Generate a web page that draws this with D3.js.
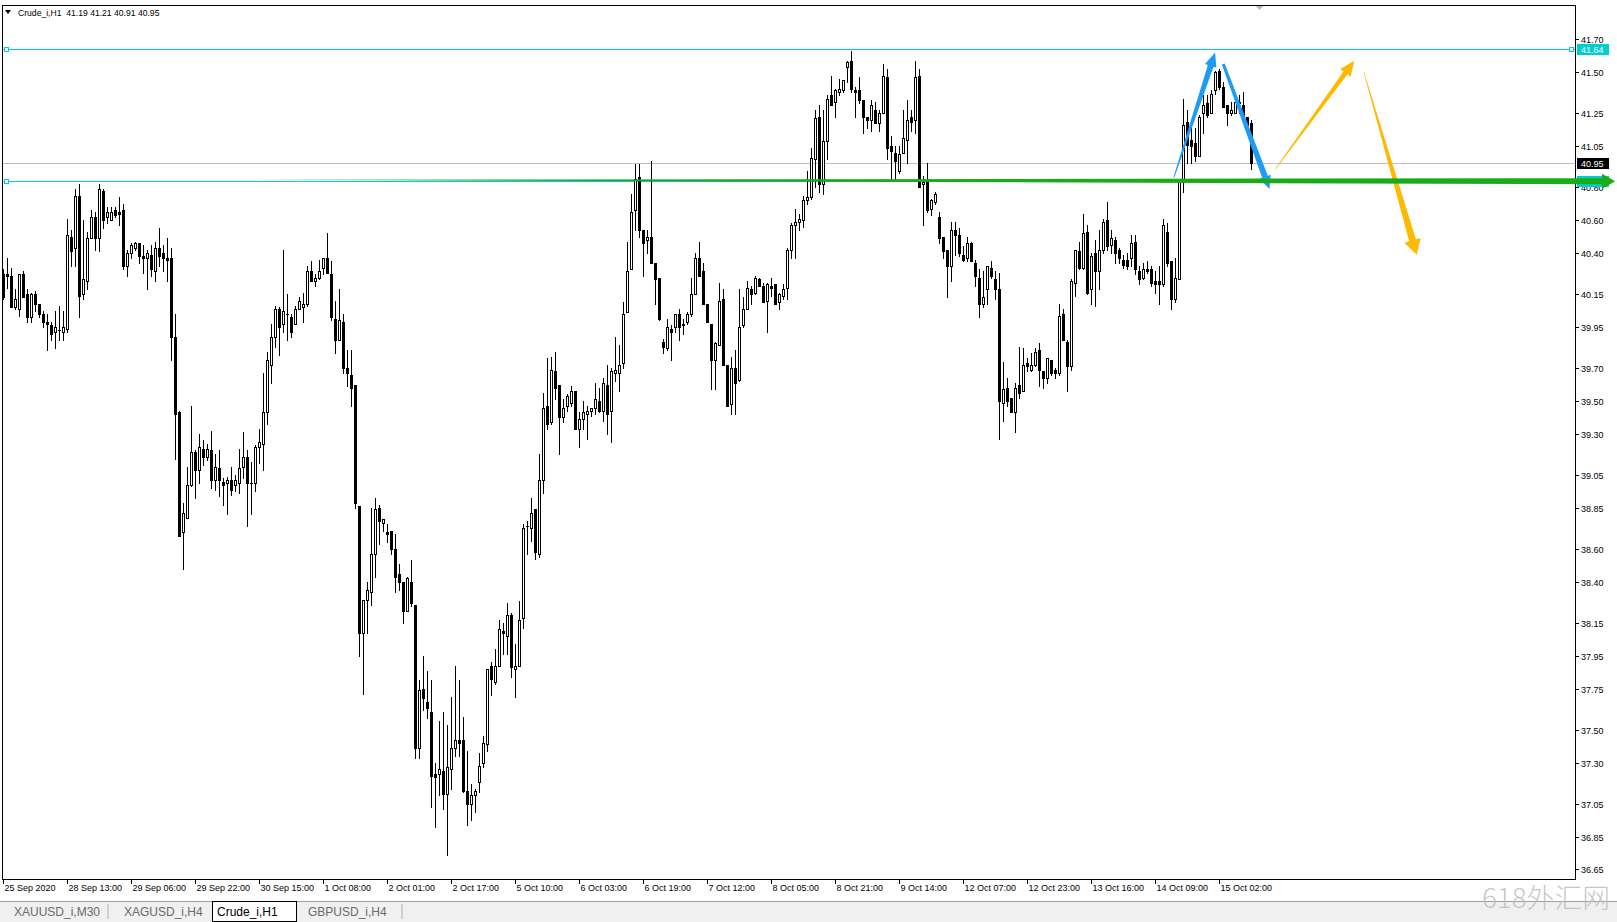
<!DOCTYPE html>
<html><head><meta charset="utf-8">
<script src="https://cdn.jsdelivr.net/npm/d3@7"></script>
<style>html,body{margin:0;padding:0;background:#fff;overflow:hidden}svg{display:block}</style>
</head><body>
<svg id="c" width="1617" height="922"></svg>
<script>
// ---------------- data ----------------
const open = [40.27,40.27,40.26,40.07,40.06,40.27,40.15,40.01,40.15,40.09,40.03,39.98,39.96,39.92,39.93,39.92,39.94,40.50,40.43,40.75,40.15,40.23,40.49,40.62,40.49,40.78,40.62,40.60,40.66,40.65,40.66,40.32,40.40,40.43,40.46,40.38,40.37,40.39,40.29,40.43,40.40,40.37,40.37,
39.89,39.43,38.70,38.79,38.99,39.19,39.08,39.21,39.16,39.20,39.02,39.09,39.01,39.00,39.02,38.99,39.00,39.10,39.16,39.00,39.00,39.22,39.24,39.43,39.72,39.89,40.06,39.97,40.03,40.01,39.97,40.06,40.07,40.09,40.29,40.23,40.25,40.31,40.37,40.27,40.00,39.87,39.98,39.70,39.66,39.60,
38.86,38.09,38.29,38.34,38.57,38.85,38.76,38.70,38.71,38.60,38.45,38.40,38.22,38.40,38.26,37.39,37.75,37.67,37.61,37.23,37.23,37.25,37.11,37.26,37.39,37.44,37.44,37.13,37.05,37.10,37.18,37.30,37.41,37.89,37.79,37.89,
38.10,38.07,38.20,37.87,37.89,38.18,38.74,38.73,38.84,38.57,39.02,39.47,39.37,39.68,39.60,39.40,39.47,39.49,39.56,39.33,39.39,39.42,39.44,39.46,39.50,39.44,39.60,39.44,39.67,39.67,39.73,40.04,40.30,40.66,40.86,
40.54,40.48,40.50,40.34,40.25,39.86,39.82,39.94,39.95,40.03,39.96,39.98,40.03,40.15,40.37,40.29,40.09,39.97,39.75,39.84,40.12,39.72,39.48,39.70,39.63,39.96,40.06,40.18,40.16,40.24,40.20,40.11,40.20,40.21,40.10,40.14,40.19,40.42,40.57,
40.59,40.60,40.72,40.74,40.97,41.23,40.82,41.08,41.36,41.32,41.38,41.39,41.53,41.57,41.39,41.39,41.33,41.23,41.21,41.27,41.19,41.25,41.47,41.05,41.01,40.90,41.01,41.09,41.23,41.21,41.48,40.82,40.83,40.67,40.71,40.62,40.50,40.42,40.32,40.54,
40.51,40.39,40.37,40.46,40.34,40.25,40.09,40.18,40.31,40.24,40.18,39.49,39.58,39.52,39.43,39.60,39.56,39.73,39.69,39.72,39.81,39.68,39.64,39.75,39.69,39.67,40.03,39.86,39.71,40.22,40.41,40.31,40.53,40.18,40.40,40.29,40.42,40.60,
40.45,40.48,40.42,40.36,40.36,40.37,40.47,40.29,40.25,40.30,40.30,40.23,40.23,40.21,40.53,40.35,40.12,40.24,40.84,41.20,41.09,41.07,40.99,41.25,41.31,41.25,41.39,41.51,41.41,41.30,41.25,41.25,41.32,41.30,41.23,41.19];
const high = [40.30,40.37,40.31,40.18,40.27,40.29,40.18,40.16,40.17,40.09,40.05,40.03,39.98,40.05,40.08,40.05,40.61,40.54,40.79,40.82,40.60,40.53,40.66,40.65,40.82,40.79,40.68,40.68,40.68,40.74,40.70,40.42,40.46,40.47,40.46,40.45,40.42,40.45,40.47,40.55,40.45,40.49,40.43,
40.03,39.44,38.88,39.10,39.47,39.20,39.30,39.26,39.24,39.32,39.18,39.20,39.03,39.04,39.10,39.05,39.21,39.31,39.20,39.13,39.23,39.33,39.67,39.80,39.97,40.08,40.07,40.42,40.15,40.03,40.08,40.13,40.16,40.32,40.35,40.27,40.36,40.37,40.52,40.35,40.11,40.18,40.03,39.81,39.81,39.60,
38.86,38.29,38.40,38.85,38.91,38.87,38.78,38.75,38.71,38.69,38.51,38.40,38.43,38.53,38.26,37.80,37.95,37.86,37.80,37.30,37.55,37.61,37.53,37.70,37.89,37.80,37.58,37.37,37.17,37.14,37.36,37.46,37.87,37.91,37.99,38.17,
38.15,38.27,38.21,38.02,38.28,38.75,38.77,38.91,38.84,39.18,39.55,39.76,39.77,39.80,39.60,39.51,39.54,39.59,39.56,39.43,39.50,39.47,39.46,39.61,39.58,39.64,39.72,39.70,39.89,39.84,40.10,40.47,40.76,40.94,40.94,
40.54,40.54,40.96,40.34,40.25,39.88,40.00,39.96,40.03,40.06,40.00,40.04,40.25,40.40,40.47,40.34,40.09,39.97,39.86,40.22,40.18,39.72,39.77,39.81,40.18,40.13,40.23,40.20,40.26,40.25,40.22,40.22,40.25,40.21,40.16,40.21,40.43,40.58,40.67,
40.64,40.75,40.90,41.04,41.27,41.30,41.27,41.36,41.48,41.40,41.46,41.45,41.57,41.63,41.41,41.47,41.33,41.23,41.33,41.32,41.27,41.55,41.52,41.11,41.05,41.05,41.27,41.33,41.27,41.57,41.52,40.87,40.95,40.73,40.77,40.65,40.50,40.42,40.59,40.59,
40.55,40.44,40.50,40.47,40.36,40.30,40.29,40.32,40.35,40.29,40.28,39.74,39.64,39.52,39.61,39.83,39.82,39.76,39.79,39.82,39.85,39.68,39.76,39.75,39.70,40.09,40.06,39.87,40.24,40.42,40.47,40.64,40.57,40.40,40.48,40.54,40.61,40.71,
40.54,40.50,40.43,40.39,40.40,40.51,40.51,40.32,40.34,40.35,40.32,40.29,40.32,40.61,40.58,40.35,40.37,40.84,41.34,41.27,41.19,41.16,41.24,41.36,41.36,41.39,41.51,41.52,41.44,41.30,41.32,41.33,41.36,41.38,41.23,41.21];
const low = [40.12,40.19,40.07,40.06,40.02,40.13,39.98,39.98,40.05,40.01,39.95,39.81,39.87,39.82,39.87,39.87,39.92,40.32,40.32,40.01,40.12,40.18,40.49,40.42,40.41,40.55,40.58,40.60,40.62,40.57,40.30,40.26,40.37,40.42,40.34,40.28,40.18,40.26,40.23,40.32,40.29,40.23,39.75,
39.15,38.68,38.48,38.79,38.98,38.91,39.00,39.11,39.14,38.97,38.96,38.92,38.87,38.81,38.93,38.95,38.94,39.03,38.74,38.81,38.95,39.12,39.08,39.36,39.61,39.83,39.78,39.92,39.87,39.89,39.97,40.06,39.98,40.08,40.23,40.20,40.24,40.27,40.28,39.99,39.79,39.87,39.67,39.59,39.47,38.85,
37.95,37.72,38.09,38.26,38.43,38.63,38.71,38.64,38.57,38.34,38.35,38.15,38.22,38.25,37.33,37.33,37.62,37.57,37.03,36.91,37.10,37.02,36.74,37.14,37.34,37.34,37.12,36.92,36.95,37.00,37.12,37.27,37.37,37.71,37.78,37.89,
37.96,37.96,37.82,37.70,37.89,38.12,38.57,38.65,38.54,38.55,38.94,39.33,39.36,39.51,39.18,39.37,39.44,39.47,39.33,39.22,39.33,39.27,39.41,39.42,39.43,39.38,39.30,39.25,39.62,39.56,39.70,40.04,40.30,40.54,40.50,
40.26,40.40,40.34,40.09,39.99,39.79,39.81,39.75,39.92,39.87,39.91,39.97,40.02,40.15,40.26,40.09,39.98,39.57,39.57,39.84,39.72,39.47,39.42,39.42,39.62,39.95,40.06,40.09,40.15,40.20,40.10,39.92,40.14,40.09,40.06,40.12,40.12,40.37,40.37,
40.54,40.56,40.70,40.73,40.80,40.77,40.76,40.97,41.30,41.23,41.36,41.38,41.44,41.38,41.23,41.31,41.13,41.16,41.14,41.19,41.14,41.25,40.97,40.85,40.85,40.89,41.01,40.95,41.14,41.13,40.80,40.57,40.65,40.63,40.70,40.46,40.37,40.13,40.23,40.39,
40.38,40.35,40.35,40.35,40.20,40.01,40.07,40.09,40.25,40.12,39.27,39.38,39.47,39.43,39.31,39.52,39.56,39.68,39.68,39.71,39.59,39.58,39.61,39.66,39.64,39.66,39.87,39.56,39.69,40.14,40.30,40.30,40.15,40.09,40.08,40.18,40.40,40.42,
40.40,40.34,40.34,40.31,40.30,40.32,40.27,40.21,40.24,40.28,40.20,40.16,40.09,40.20,40.32,40.06,40.10,40.24,40.77,40.95,40.95,40.96,40.99,41.13,41.23,41.25,41.37,41.40,41.29,41.18,41.24,41.25,41.25,41.24,41.17,40.91];
const close = [40.13,40.26,40.07,40.12,40.27,40.13,40.01,40.15,40.09,40.03,39.98,39.97,39.91,39.95,39.93,39.95,40.51,40.41,40.75,40.14,40.24,40.49,40.62,40.49,40.79,40.60,40.65,40.65,40.63,40.64,40.32,40.40,40.45,40.46,40.38,40.37,40.40,40.30,40.43,40.38,40.37,40.36,39.89,
39.42,38.68,38.82,38.99,39.19,39.08,39.22,39.16,39.21,39.02,39.10,39.02,38.99,39.02,38.96,39.02,39.09,39.16,39.00,39.00,39.22,39.25,39.43,39.75,39.89,40.06,39.95,40.05,40.03,39.92,40.06,40.11,40.09,40.29,40.23,40.25,40.29,40.37,40.28,40.01,39.87,39.99,39.70,39.67,39.58,38.88,
38.09,38.29,38.35,38.57,38.84,38.77,38.78,38.69,38.60,38.43,38.40,38.22,38.42,38.27,37.39,37.74,37.69,37.63,37.22,37.21,37.26,37.11,37.27,37.39,37.44,37.42,37.13,37.05,37.10,37.13,37.28,37.42,37.87,37.81,37.89,38.11,
38.09,38.20,37.88,37.89,38.17,38.73,38.74,38.82,38.58,39.02,39.46,39.36,39.69,39.58,39.40,39.46,39.53,39.56,39.33,39.39,39.43,39.44,39.46,39.51,39.44,39.61,39.42,39.68,39.69,39.72,40.03,40.29,40.65,40.85,40.54,
40.46,40.50,40.34,40.24,40.00,39.83,39.95,39.92,40.03,39.95,39.97,40.03,40.15,40.37,40.26,40.09,39.98,39.75,39.85,40.11,39.72,39.47,39.70,39.61,39.95,40.06,40.19,40.15,40.25,40.20,40.10,40.21,40.19,40.09,40.15,40.18,40.42,40.57,40.59,
40.61,40.72,40.74,40.98,41.22,40.82,41.08,41.34,41.30,41.39,41.40,41.45,41.56,41.40,41.38,41.33,41.23,41.21,41.30,41.19,41.25,41.48,41.04,41.02,40.96,41.00,41.10,41.21,41.20,41.47,40.80,40.83,40.66,40.72,40.76,40.49,40.41,40.32,40.54,40.51,
40.40,40.36,40.46,40.35,40.26,40.09,40.13,40.32,40.26,40.18,39.50,39.57,39.50,39.43,39.58,39.55,39.72,39.71,39.72,39.80,39.69,39.64,39.76,39.67,39.67,40.02,39.87,39.71,40.23,40.42,40.31,40.52,40.16,40.38,40.29,40.42,40.59,40.44,
40.49,40.40,40.37,40.33,40.32,40.46,40.30,40.24,40.30,40.29,40.22,40.21,40.21,40.57,40.34,40.12,40.25,40.84,41.18,41.06,41.05,40.99,41.23,41.30,41.24,41.37,41.50,41.41,41.29,41.25,41.27,41.32,41.31,41.24,41.18,40.95];

const priceTicks = [41.70,41.50,41.25,41.05,40.80,40.60,40.40,40.15,39.95,39.70,39.50,39.30,39.05,38.85,38.60,38.40,38.15,37.95,37.75,37.50,37.30,37.05,36.85,36.65];
const timeLabels = ["25 Sep 2020","28 Sep 13:00","29 Sep 06:00","29 Sep 22:00","30 Sep 15:00","1 Oct 08:00","2 Oct 01:00","2 Oct 17:00","5 Oct 10:00","6 Oct 03:00","6 Oct 19:00","7 Oct 12:00","8 Oct 05:00","8 Oct 21:00","9 Oct 14:00","12 Oct 07:00","12 Oct 23:00","13 Oct 16:00","14 Oct 09:00","15 Oct 02:00"];
const timeLabelBars = [0,16,32,48,64,80,96,112,128,144,160,176,192,208,224,240,256,272,288,304];
const tabNames = ["XAUUSD_i,M30","XAGUSD_i,H4","Crude_i,H1","GBPUSD_i,H4"];
const activeTab = "Crude_i,H1";
const headerText = "Crude_i,H1  41.19 41.21 40.91 40.95";
const levelLines = [41.64, 40.84];
const bidPrice = 40.95;
// annotation arrows: bar index / price
const arrowsFrom = [[292.6,40.86],[304.95,41.55],[317.95,40.91],[340.1,41.50],[58.9,40.846]];
const arrowsTo   = [[302.9,41.62],[316.5,40.79],[337.7,41.57],[353.3,40.39],[402.9,40.837]];
const arrowColors = ["#1e9bf5","#1e9bf5","#ffb900","#ffb900","#1aab1a"];
const arrowSizes = [[1,6,12,14],[3,6,12,13],[0.5,5,13,15],[0.5,7,17,15],[0,6,15,13]];

// ---------------- drawing ----------------
const svg = d3.select('#c');
const FL = 2.5, FR = 1575.5, FT = 5.5, FB = 879.5;
const y = d3.scaleLinear().domain([36.65, 41.70]).range([869.4, 39.4]);
const x = d3.scaleLinear().domain([0, 312]).range([3.5, 1251.5]);
const FONT = '"Liberation Sans", Arial, sans-serif';

svg.append('rect').attr('width',1617).attr('height',922).attr('fill','#fff');

const plot = svg.append('g');
// bid line
plot.append('line').attr('x1',FL).attr('x2',FR).attr('y1',Math.round(y(bidPrice))+0.5).attr('y2',Math.round(y(bidPrice))+0.5)
  .attr('stroke','#c0c0c0').attr('stroke-width',1);
// horizontal level lines (cyan)
levelLines.forEach(p=>{
  const yy = Math.round(y(p))+0.5;
  plot.append('line').attr('x1',FL).attr('x2',FR).attr('y1',yy).attr('y2',yy).attr('stroke','#00ced1').attr('stroke-width',1);
  plot.append('rect').attr('x',4.5).attr('y',yy-2).attr('width',4).attr('height',4).attr('fill','#fff').attr('stroke','#00ced1');
  plot.append('rect').attr('x',FR-6).attr('y',yy-2).attr('width',4).attr('height',4).attr('fill','#fff').attr('stroke','#00ced1');
});

// candles
const cg = plot.append('g').attr('shape-rendering','crispEdges');
d3.range(open.length).forEach(i=>{
  const cx = x(i);
  const yh = Math.round(y(high[i])), yl = Math.round(y(low[i]));
  const yt = Math.round(y(Math.max(open[i],close[i]))), yb = Math.round(y(Math.min(open[i],close[i])));
  cg.append('rect').attr('x',cx-0.5).attr('y',yh).attr('width',1).attr('height',Math.max(1,yl-yh+1)).attr('fill','#000');
  cg.append('rect').attr('x',cx-1.5).attr('y',yt).attr('width',3).attr('height',yb-yt+1).attr('fill','#000');
  if (close[i] > open[i] && yb-yt-1 > 0) {
    cg.append('rect').attr('x',cx-0.5).attr('y',yt+1).attr('width',1).attr('height',yb-yt-1).attr('fill','#fff');
  }
});

// arrows
function arrow(p1,p2,sz,color){
  const x1=x(p1[0]), y1=y(p1[1]), x2=x(p2[0]), y2=y(p2[1]);
  const [w0,w1,hw,hl]=sz;
  const dx=x2-x1, dy=y2-y1, len=Math.hypot(dx,dy);
  const ux=dx/len, uy=dy/len, nx=-uy, ny=ux;
  const bx=x2-ux*hl, by=y2-uy*hl;
  const pts=[[x1+nx*w0/2,y1+ny*w0/2],[bx+nx*w1/2,by+ny*w1/2],[bx+nx*hw/2,by+ny*hw/2],[x2,y2],
             [bx-nx*hw/2,by-ny*hw/2],[bx-nx*w1/2,by-ny*w1/2],[x1-nx*w0/2,y1-ny*w0/2]];
  svg.append('polygon').attr('points',pts.map(p=>p.map(v=>v.toFixed(2)).join(',')).join(' ')).attr('fill',color);
}

// frame
svg.append('rect').attr('x',FL).attr('y',FT).attr('width',FR-FL).attr('height',FB-FT)
  .attr('fill','none').attr('stroke','#000').attr('stroke-width',1).attr('shape-rendering','crispEdges');

// right axis
const ax = svg.append('g').attr('font-family',FONT).attr('font-size','9px').attr('fill','#000');
priceTicks.forEach(p=>{
  const yy=Math.round(y(p))+0.5;
  ax.append('line').attr('x1',FR).attr('x2',FR+3).attr('y1',yy).attr('y2',yy).attr('stroke','#000').attr('shape-rendering','crispEdges');
  ax.append('text').attr('x',1581).attr('y',yy).attr('dy','0.35em').text(p.toFixed(2));
});
// level labels (the lower one is hidden behind the green arrow in the reference)
function priceBox(p,bg,fg,withText){
  const yy=Math.round(y(p));
  svg.append('rect').attr('x',1577).attr('y',yy-5).attr('width',32).attr('height',11).attr('fill',bg);
  if (withText) svg.append('text').attr('x',1581).attr('y',yy+0.5).attr('dy','0.35em').attr('font-family',FONT)
    .attr('font-size','9px').attr('fill',fg).text(p.toFixed(2));
}
priceBox(levelLines[0],'#00ced1','#fff',true);
priceBox(levelLines[1],'#00ced1','#fff',false);
priceBox(bidPrice,'#000','#fff',true);

// arrows over everything in plot
arrowsFrom.forEach((p,k)=>arrow(p,arrowsTo[k],arrowSizes[k],arrowColors[k]));

// bottom axis
const bx = svg.append('g').attr('font-family',FONT).attr('font-size','9px').attr('fill','#000');
timeLabelBars.forEach((b,k)=>{
  const xx=x(b);
  bx.append('line').attr('x1',xx).attr('x2',xx).attr('y1',FB).attr('y2',FB+4).attr('stroke','#000').attr('shape-rendering','crispEdges');
  bx.append('text').attr('x',xx+1).attr('y',888).attr('dy','0.35em').text(timeLabels[k]);
});

// header
svg.append('path').attr('d','M5,10 L11,10 L8,14 Z').attr('fill','#000');
svg.append('text').attr('x',18).attr('y',13).attr('dy','0.35em').attr('font-family',FONT)
  .attr('font-size','8.6px').attr('fill','#000').style('white-space','pre').text(headerText);
// shift marker
svg.append('path').attr('d','M1256,6 L1263,6 L1259.5,10 Z').attr('fill','#b4b4b4');

// tab bar
svg.append('rect').attr('x',0).attr('y',901).attr('width',1617).attr('height',21).attr('fill','#f0f0f0');
svg.append('line').attr('x1',0).attr('x2',1617).attr('y1',901.5).attr('y2',901.5).attr('stroke','#a0a0a0');
const tabX = [14,124,217,308];
const tg = svg.append('g').attr('font-family',FONT).attr('font-size','12px');
tabNames.forEach((t,k)=>{
  if (t===activeTab){
    tg.append('rect').attr('x',tabX[k]-4.5).attr('y',901.5).attr('width',84).attr('height',20).attr('fill','#fff').attr('stroke','#000');
  }
  tg.append('text').attr('x',tabX[k]).attr('y',912).attr('dy','0.35em').attr('fill',t===activeTab?'#000':'#6a6a6a').text(t);
  if (t!==activeTab) {
    tg.append('line').attr('x1',tabX[k]+94).attr('x2',tabX[k]+94).attr('y1',904).attr('y2',919).attr('stroke','#b0b0b0');
  }
});

// watermark
svg.append('text').attr('x',1482).attr('y',899).attr('dy','0.35em').attr('font-family','"Noto Sans CJK SC", sans-serif')
  .attr('font-size','27px').attr('font-weight','300').attr('fill','#bdbdbd').attr('fill-opacity',0.85)
  .attr('textLength',128).attr('lengthAdjust','spacingAndGlyphs').text('618外汇网');
</script>
</body></html>
